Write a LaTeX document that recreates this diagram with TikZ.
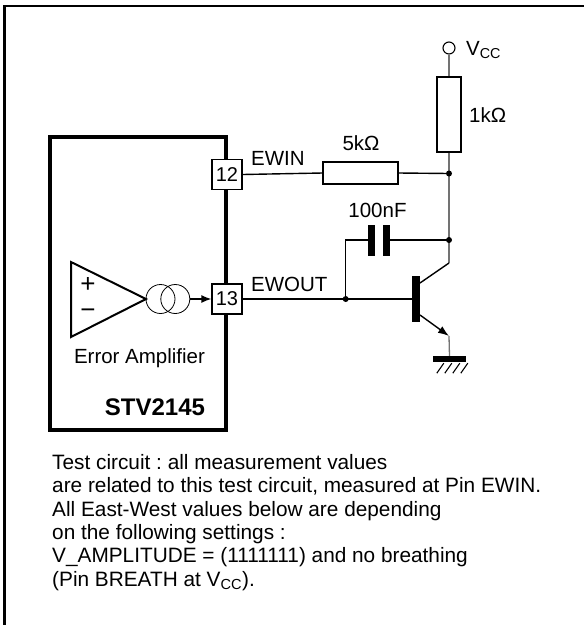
\documentclass[tikz,border=0pt]{standalone}
\usepackage{fontspec}
\setmainfont{Liberation Sans}
\usetikzlibrary{positioning,arrows.meta,calc}
\frenchspacing

\begin{document}
\begin{tikzpicture}[x=1pt, y=-1pt,
    % rectangle outlines (pins, resistors)
    box/.style={rectangle, draw=black, line width=1.3pt, fill=white, inner sep=0pt},
    pinbox/.style={box, minimum size=30pt, font=\fontsize{20}{20}\selectfont},
    % filled bars: capacitor plates, base, ground
    plate/.style={rectangle, fill=black, inner sep=0pt},
    dot/.style={circle, fill=black, inner sep=0pt, minimum size=6pt},
    wire/.style={line width=1.4pt},
    vwire/.style={line width=1.3pt, black!55},
    lbl/.style={inner sep=0pt, font=\fontsize{20.5}{23.4}\selectfont},
    point/.style={coordinate}
  ]
  \useasboundingbox (0,0) rectangle (584,625);
  % outer frame, cut off at right and bottom
  \draw[line width=2.5pt] (592,6) -| (4.3,632);

  % the chip
  \node[rectangle, draw=black, line width=4.5pt, minimum width=176pt, minimum height=293pt, inner sep=0pt]
                          (ic)      at (138,283.5)   {};
  \node[pinbox]           (pin12)   at (227,174.5)   {12};
  \node[pinbox]           (pin13)   at (227,299)     {13};

  % error amplifier and current source
  \draw[line width=2pt] (71,262) -- (146,299) coordinate (ampout) -- (71,337) -- cycle;
  \node[lbl, font=\fontsize{26}{26}\selectfont] (plus)  at (88,285) {+};
  \node[lbl, font=\fontsize{26}{26}\selectfont] (minus) at (88,314) {−};
  \node[circle, draw, line width=0.8pt, minimum size=29pt, inner sep=0pt] (srca) at (160.5,299) {};
  \node[circle, draw, line width=0.8pt, minimum size=29pt, inner sep=0pt] (srcb) at (175.3,299) {};
  \draw[wire, -{Latex[length=10pt,width=8pt]}] (srcb.east) -- (pin13.west);
  \node[lbl]              (amplbl)  at (139.5,358)   {Error Amplifier};
  \node[lbl, font=\fontsize{24}{24}\selectfont\bfseries] (chiplbl) at (155,407) {STV2145};

  % outside parts
  \node[circle, draw=black, line width=1.1pt, minimum size=12pt, inner sep=0pt]
                          (vcc)     at (449,48)      {};
  \node[box, minimum width=24pt, minimum height=75pt] (rone)  at (449,114.5) {};
  \node[box, minimum width=75pt, minimum height=22pt] (rfive) at (360.5,173) {};
  \node[plate, minimum width=7pt, minimum height=31pt] (capl) at (371.5,240) {};
  \node[plate, minimum width=7pt, minimum height=31pt] (capr) at (386.5,240) {};
  \node[plate, minimum width=8pt, minimum height=46pt] (base) at (416,299) {};
  \node[plate, minimum width=33pt, minimum height=6pt] (gnd)  at (449.5,359) {};
  \node[point]            (jin)     at (449,173.5)   {};
  \node[point]            (jcap)    at (449,240)     {};
  \node[point]            (jout)    at (345.7,299)   {};
  \node[point]            (cb)      at (420,283)     {};
  \node[point]            (coll)    at (449,263)     {};
  \node[point]            (eb)      at (420,315)     {};
  \node[point]            (emit)    at (449,336)     {};

  %Labels
  \node[lbl, anchor=west] (vcclbl)  at (466,50)      {V\textsubscript{CC}};
  \node[lbl, anchor=west] (ronelbl) at (469,115)     {1kΩ};
  \node[lbl]              (rfivelbl) at (361,143)    {5kΩ};
  \node[lbl]              (caplbl)  at (377.5,210)   {100nF};
  \node[lbl, anchor=base west] (ewinlbl)  at (251,165) {EWIN};
  \node[lbl, anchor=base west] (ewoutlbl) at (251,291) {EWOUT};

  %Lines
  \draw[wire] (pin12.east)  --  (rfive.west);
  \draw[wire] (rfive.east)  --  (jin);
  \draw[vwire] (vcc.south)  --  (rone.north);
  \draw[vwire] (rone.south) --  (jin) -- (jcap) -- (coll);
  \draw[wire] (jcap)        --  (capr.east);
  \draw[wire] (capl.west)   -|  (jout);
  \draw[wire] (pin13.east)  --  (base.west);
  \draw[wire] (cb)          --  (coll);
  \draw[wire, -{Latex[length=11pt,width=8pt]}] (eb) -- (emit);
  \draw[vwire] (emit)       --  (gnd.north);
  % hatching under the ground bar
  \foreach \i in {0,...,3}
    \draw[line width=1.1pt] ($(gnd.south west)+(4+8*\i,11)$) -- ++(7,-10);

  % junction dots
  \node[dot] at (jin)  {};
  \node[dot] at (jcap) {};
  \node[dot] at (jout) {};

  % note below the circuit
  \node[lbl, font=\fontsize{20.8}{23.4}\selectfont, anchor=north west, align=left] (note) at (52,454)
    {Test circuit : all measurement values\\
     are related to this test circuit, measured at Pin EWIN.\\
     All East-West values below are depending\\
     on the following settings :\\
     V\_AMPLITUDE = (1111111) and no breathing\\
     (Pin BREATH at V\textsubscript{CC}).};
\end{tikzpicture}
\end{document}
